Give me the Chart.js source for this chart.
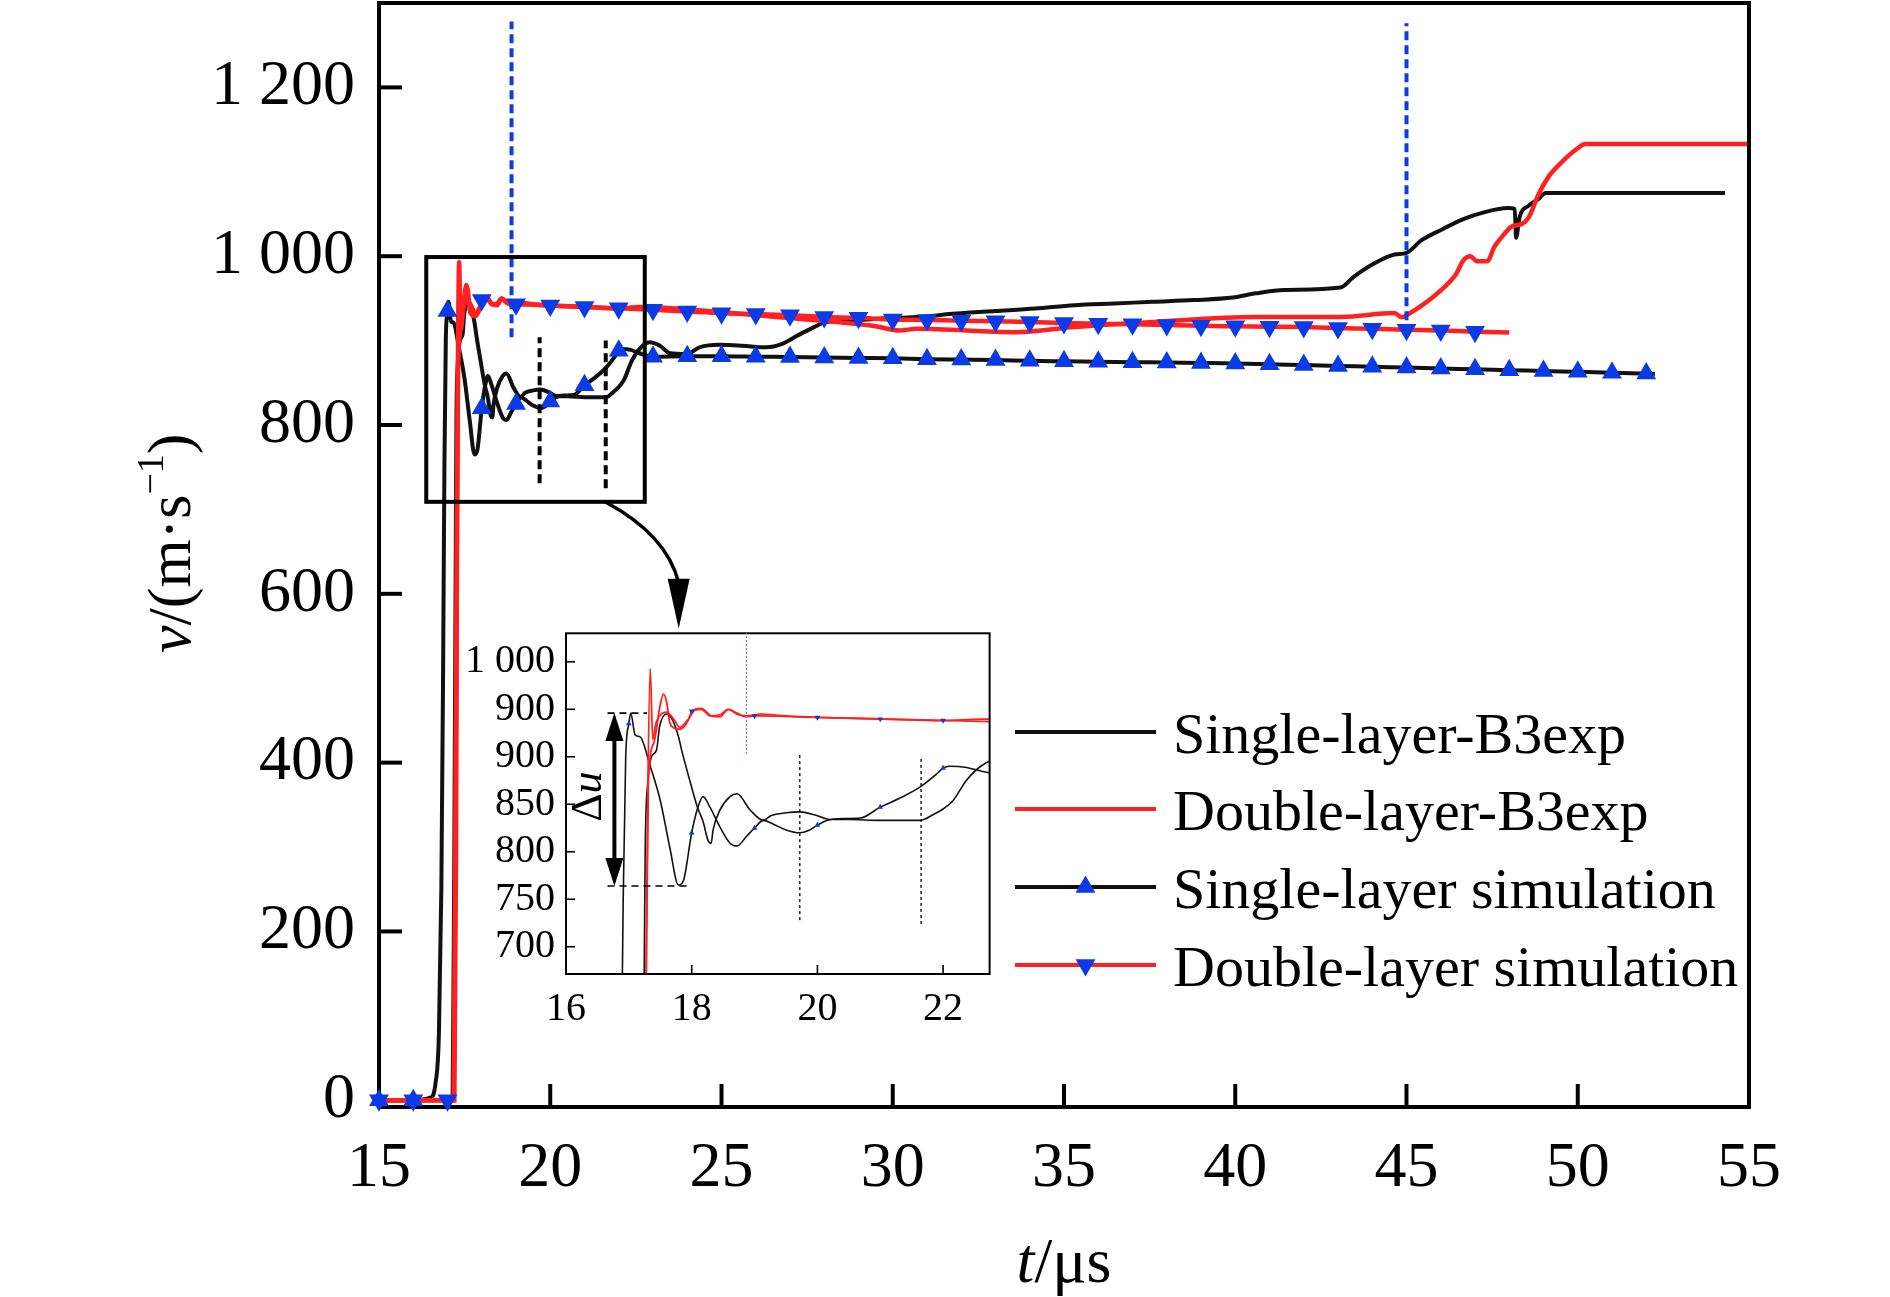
<!DOCTYPE html>
<html><head><meta charset="utf-8">
<script src="https://cdn.jsdelivr.net/npm/chart.js@4.4.1/dist/chart.umd.min.js"></script>
<style>
html,body{margin:0;padding:0;background:#fff;}
#wrap{position:relative;width:1890px;height:1297px;overflow:hidden;}
#main{position:absolute;left:0;top:0;width:1890px;height:1297px;}
#inset{position:absolute;left:420px;top:620px;width:580px;height:430px;}
</style></head><body>
<div id="wrap"><canvas id="main" width="1890" height="1297"></canvas><canvas id="inset" width="580" height="430"></canvas></div>
<script>
// ---------------- DATA ----------------
const seriesLabels = ['Single-layer-B3exp', 'Double-layer-B3exp', 'Single-layer simulation', 'Double-layer simulation'];

const singleExpT = [15, 16.5, 17.1, 17.15, 17.2, 17.26, 17.3, 17.36, 17.44, 17.49, 17.6, 17.7, 17.79, 17.84, 17.97, 18.09, 18.18, 18.26, 18.31, 18.34, 18.45, 18.61, 18.72, 18.93, 19.14, 19.26, 19.5, 19.72, 19.95, 20.2, 20.5, 21.0, 21.63, 21.84, 22.0, 22.16, 22.37, 22.6, 22.9, 23.2, 23.5, 23.97, 24.36, 24.92, 25.6, 26.3, 26.77, 27.22, 27.7, 28.04, 28.6, 29.53, 30.7, 31.85, 33.0, 34.16, 35.3, 36.47, 37.6, 38.78, 39.93, 40.6, 41.43, 43.08, 43.44, 44.04, 44.65, 45.0, 45.44, 46.05, 46.66, 47.26, 47.96, 48.16, 48.2, 48.3, 48.57, 48.86, 49.06, 54.3];
const singleExpV = [0, 0, 0, 5, 300, 800, 872, 900, 907, 932, 945, 938, 921, 907, 875, 847, 832, 812, 809, 823, 844, 858, 861, 844, 833, 838, 841, 842, 839, 834, 834, 833, 833, 839, 845, 854, 875, 890, 898, 894, 885, 884, 892, 895, 894, 892, 896, 906, 916, 922, 923, 926, 928, 932, 935, 938, 942, 944, 946, 948, 951, 956, 960, 963, 975, 991, 1002, 1004, 1019, 1032, 1044, 1052, 1057, 1056, 1022, 1046, 1060, 1068, 1075, 1075];

const doubleExpT = [15, 17.18, 17.24, 17.3, 17.34, 17.38, 17.43, 17.5, 17.6, 17.73, 17.81, 17.95, 18.05, 18.15, 18.3, 18.45, 18.58, 18.72, 18.87, 19.1, 19.5, 20, 21, 22, 22.6, 24.9, 27.2, 29.5, 30.2, 30.7, 33.6, 35.3, 37.6, 40.6, 43.1, 44.65, 44.85, 45.15, 45.45, 46.05, 46.45, 46.66, 46.86, 47.06, 47.36, 47.56, 47.86, 48.06, 48.36, 48.57, 48.86, 49.17, 49.57, 49.97, 50.22, 54.95];
const doubleExpV = [0, 0, 400, 850, 993, 918, 935, 944, 947, 938, 931, 940, 949, 950, 943, 944, 950, 945, 943, 945, 943, 941.5, 940, 938, 939.7, 934, 926, 917, 912, 914, 910, 916, 922, 928, 928, 932.6, 927.8, 933.7, 941.7, 961.4, 979, 995, 1000, 994, 994, 1010.7, 1026.5, 1035, 1038, 1046, 1073.8, 1095.5, 1113, 1127, 1133, 1133];

const singleSimT = [15, 16, 16.5, 16.65, 16.75, 16.82, 16.87, 16.91, 16.95, 17, 17.03, 17.1, 17.18, 17.34, 17.5, 17.65, 17.79, 17.87, 18, 18.1, 18.18, 18.29, 18.45, 18.61, 18.72, 18.87, 19, 19.14, 19.3, 19.5, 19.72, 19.85, 20, 20.15, 20.4, 20.68, 21, 21.3, 21.63, 21.9, 22, 22.1, 22.35, 22.6, 23, 24, 25, 26, 27, 28, 29, 30, 31, 32, 33, 34, 35, 36, 37, 38, 39, 40, 41, 42, 43, 44, 45, 46, 47, 48, 49, 50, 51, 52, 52.25];
const singleSimV = [0, 0, 3, 20, 80, 250, 500, 750, 900, 935, 946, 923, 921, 890, 854, 805, 765, 770, 820, 847, 858, 847, 826, 809, 806, 816, 825, 833, 829, 823, 820, 822, 828, 833, 835, 835.5, 847, 856, 868, 882, 888, 890, 889, 885, 881, 881.5, 881.5, 881, 880.5, 880, 879.5, 879, 878, 877.5, 877, 876, 875.5, 875, 874.5, 874, 873.5, 873, 872, 871, 870, 869, 868, 867, 866, 865, 864, 863, 862, 861, 860.5];

const doubleSimT = [15, 16, 17, 17.2, 17.25, 17.28, 17.31, 17.4, 17.5, 17.55, 17.6, 17.65, 17.73, 17.81, 17.95, 18, 18.15, 18.31, 18.45, 18.58, 18.72, 18.87, 19, 20, 21, 22, 23, 24, 25, 26, 27, 28, 29, 30, 31, 32, 33, 34, 35, 36, 37, 38, 39, 40, 41, 42, 43, 44, 45, 46, 47, 48];
const doubleSimV = [0, 0, 0, 0, 300, 700, 872, 915, 955, 966, 958, 936, 930, 929, 939, 948, 951, 943, 942, 950, 946, 942, 943, 941.5, 939.7, 938.3, 936.5, 934.5, 932.5, 931.5, 930, 928, 927, 925, 924.5, 923.5, 923, 922, 921, 920, 919.5, 918.5, 917.5, 917, 916.5, 916, 915, 914, 913, 912, 910.5, 909.5];

// tick values / labels
const xTicks = [15, 20, 25, 30, 35, 40, 45, 50, 55];
const yTicks = [0, 200, 400, 600, 800, 1000, 1200];
const insetXTicks = [16, 18, 20, 22];
const insetYTicks = [700, 750, 800, 850, 900, 950, 1000];
const insetYTickLabels = ['700', '750', '800', '850', '900', '900', '1 000'];

// annotations (data coordinates)
const mainBlueDash = [[18.87, 904, 1278], [45.0, 924, 1276]];      // t, vFrom, vTo
const mainBlackDash = [[19.69, 731, 904], [21.62, 725, 900]];
const zoomFrame = [16.38, 22.76, 709, 999];                          // t0, t1, v0, v1
const zoomArrow = [[21.6, 709], [23.4, 670], [23.75, 613], [23.75, 559]]; // start, ctrl, end, tip
const insetBlackDash = [[19.72, 728, 903], [21.65, 724, 900]];
const insetBlueDot = [18.87, 903, 1030];
const deltaU = { t: 16.77, hi: 946, lo: 764, from: 16.66, hiEnd: 17.29, loEnd: 17.92, labelT: 16.38, labelV: 858 };

// ---------------- STYLE ----------------
const SERIF = "'Liberation Serif', 'Times New Roman', serif";
const C_BLACK = '#111111', C_RED = '#ff2121', C_BLUE = '#0a3be6';

function pts(T, V) { return T.map((t, i) => ({ x: t, y: V[i] })); }
function markerPts(T, V) { // simulation markers: integer time steps (last sample has no marker)
  const out = [];
  for (let i = 0; i < T.length - 1; i++) if (Number.isInteger(T[i])) out.push({ x: T[i], y: V[i] });
  return out;
}
function fmtV(v) {
  if (v >= 1000) return Math.floor(v / 1000) + ' ' + String(v % 1000).padStart(3, '0');
  return String(v);
}
function tri(ctx, x, y, r, down) {
  const a0 = down ? Math.PI : 0;
  ctx.beginPath();
  for (let k = 0; k < 3; k++) {
    const a = a0 + k * 2 * Math.PI / 3;
    const px = x + Math.sin(a) * r, py = y - Math.cos(a) * r;
    if (k === 0) ctx.moveTo(px, py); else ctx.lineTo(px, py);
  }
  ctx.closePath(); ctx.fill();
}
function rich(ctx, parts) {
  let w = 0;
  for (const p of parts) { ctx.font = p.font; w += ctx.measureText(p.text).width; }
  return w;
}
function drawRich(ctx, parts, x, y) {
  let cx = x;
  for (const p of parts) {
    ctx.font = p.font;
    ctx.fillText(p.text, cx, y + (p.dy || 0));
    cx += ctx.measureText(p.text).width;
  }
}
function dashedLine(ctx, x0, y0, x1, y1, dash, w, color) {
  ctx.save(); ctx.setLineDash(dash); ctx.lineWidth = w; ctx.strokeStyle = color;
  ctx.beginPath(); ctx.moveTo(x0, y0); ctx.lineTo(x1, y1); ctx.stroke(); ctx.restore();
}
function noPad(s) { s.paddingTop = 0; s.paddingBottom = 0; s.paddingLeft = 0; s.paddingRight = 0; }

Chart.defaults.font.family = SERIF;
Chart.defaults.color = '#000';

function lineDs(label, T, V, color, width, order, clip) {
  const d = { label, data: pts(T, V), borderColor: color, borderWidth: width, pointRadius: 0,
    fill: false, cubicInterpolationMode: 'monotone', order };
  if (clip !== undefined) d.clip = clip;
  return d;
}
function markDs(T, V, down, r, order, clip) {
  return { label: 'm', data: markerPts(T, V), showLine: false, pointStyle: 'triangle',
    pointRotation: down ? 180 : 0, pointRadius: r, pointBackgroundColor: C_BLUE,
    pointBorderWidth: 0, pointBorderColor: C_BLUE, order, clip };
}

// ---------------- MAIN CHART ----------------
const mainDecor = {
  id: 'mainDecor',
  beforeDatasetsDraw(chart) {
    const { ctx, chartArea: a, scales: { x, y } } = chart;
    ctx.save();
    ctx.strokeStyle = '#000'; ctx.lineWidth = 4;
    ctx.strokeRect(a.left, a.top, a.right - a.left, a.bottom - a.top);
    xTicks.forEach(v => { const px = x.getPixelForValue(v); ctx.beginPath(); ctx.moveTo(px, a.bottom); ctx.lineTo(px, a.bottom - 23); ctx.stroke(); });
    yTicks.forEach(v => { const py = y.getPixelForValue(v); ctx.beginPath(); ctx.moveTo(a.left, py); ctx.lineTo(a.left + 23, py); ctx.stroke(); });
    ctx.restore();
  },
  afterDraw(chart) {
    const { ctx, scales: { x, y } } = chart;
    ctx.save();
    mainBlueDash.forEach(([t, v0, v1]) => dashedLine(ctx, x.getPixelForValue(t), y.getPixelForValue(v0), x.getPixelForValue(t), y.getPixelForValue(v1), [9, 5], 4, C_BLUE));
    mainBlackDash.forEach(([t, v0, v1]) => dashedLine(ctx, x.getPixelForValue(t), y.getPixelForValue(v0), x.getPixelForValue(t), y.getPixelForValue(v1), [9, 5], 4, '#000'));
    ctx.strokeStyle = '#000'; ctx.lineWidth = 4; ctx.setLineDash([]);
    const fx0 = x.getPixelForValue(zoomFrame[0]), fx1 = x.getPixelForValue(zoomFrame[1]);
    const fy0 = y.getPixelForValue(zoomFrame[2]), fy1 = y.getPixelForValue(zoomFrame[3]);
    ctx.strokeRect(fx0, fy1, fx1 - fx0, fy0 - fy1);
    const P = zoomArrow.map(([t, v]) => [x.getPixelForValue(t), y.getPixelForValue(v)]);
    ctx.lineWidth = 3.5;
    ctx.beginPath(); ctx.moveTo(P[0][0], P[0][1]); ctx.quadraticCurveTo(P[1][0], P[1][1], P[2][0], P[2][1]); ctx.stroke();
    ctx.fillStyle = '#000';
    ctx.beginPath(); ctx.moveTo(P[3][0], P[3][1]); ctx.lineTo(P[2][0] - 11, P[2][1] - 4); ctx.lineTo(P[2][0] + 11, P[2][1] - 4); ctx.closePath(); ctx.fill();

    // legend
    const rows = [732, 809, 887, 965];
    const lx0 = 1015, lx1 = 1156, tx = 1173;
    const lcol = [C_BLACK, C_RED, C_BLACK, C_RED];
    rows.forEach((ry, i) => {
      ctx.strokeStyle = lcol[i]; ctx.lineWidth = 4;
      ctx.beginPath(); ctx.moveTo(lx0, ry); ctx.lineTo(lx1, ry); ctx.stroke();
      if (i >= 2) { ctx.fillStyle = C_BLUE; tri(ctx, (lx0 + lx1) / 2, ry, 11.5, i === 3); }
      ctx.fillStyle = '#000'; ctx.font = '58px ' + SERIF; ctx.textAlign = 'left'; ctx.textBaseline = 'alphabetic';
      ctx.fillText(seriesLabels[i], tx, ry + 21);
    });

    // axis titles
    ctx.fillStyle = '#000'; ctx.textAlign = 'left'; ctx.textBaseline = 'alphabetic';
    const xt = [{ text: 't', font: 'italic 64px ' + SERIF }, { text: '/μs', font: '64px ' + SERIF }];
    const xw = rich(ctx, xt);
    drawRich(ctx, xt, 1064 - xw / 2, 1282);
    ctx.save();
    ctx.translate(190, 653); ctx.rotate(-Math.PI / 2);
    drawRich(ctx, [
      { text: 'v', font: 'italic 62px ' + SERIF },
      { text: '/(m·s', font: '62px ' + SERIF },
      { text: '−1', font: '38px ' + SERIF, dy: -27 },
      { text: ')', font: '62px ' + SERIF }
    ], 0, 0);
    ctx.restore();
    ctx.restore();
  }
};

new Chart(document.getElementById('main'), {
  type: 'line',
  data: {
    datasets: [
      markDs(singleSimT, singleSimV, false, 11.5, 0, false),
      markDs(doubleSimT, doubleSimV, true, 11.5, 0, false),
      lineDs(seriesLabels[1], doubleExpT, doubleExpV, C_RED, 4.5, 1),
      lineDs(seriesLabels[3], doubleSimT, doubleSimV, C_RED, 4.5, 2),
      lineDs(seriesLabels[0], singleExpT, singleExpV, C_BLACK, 4, 3),
      lineDs(seriesLabels[2], singleSimT, singleSimV, C_BLACK, 4, 4)
    ]
  },
  options: {
    responsive: false, animation: false, devicePixelRatio: 1, events: [],
    layout: { autoPadding: false, padding: { left: 0, top: 3, right: 141, bottom: 0 } },
    plugins: { legend: { display: false }, tooltip: { enabled: false } },
    scales: {
      x: {
        type: 'linear', min: 15, max: 55,
        afterBuildTicks: s => { s.ticks = xTicks.map(v => ({ value: v })); },
        afterFit: s => { s.height = 190; noPad(s); },
        grid: { display: false, drawTicks: false }, border: { display: false },
        ticks: { color: '#000', font: { size: 64, family: SERIF }, padding: 24, maxRotation: 0, autoSkip: false, callback: v => String(v) }
      },
      y: {
        type: 'linear', min: -8, max: 1300,
        afterBuildTicks: s => { s.ticks = yTicks.map(v => ({ value: v })); },
        afterFit: s => { s.width = 379; noPad(s); },
        grid: { display: false, drawTicks: false }, border: { display: false },
        ticks: { color: '#000', font: { size: 64, family: SERIF }, padding: 24, autoSkip: false, callback: v => fmtV(v) }
      }
    }
  },
  plugins: [mainDecor]
});

// ---------------- INSET CHART ----------------
const insetDecor = {
  id: 'insetDecor',
  afterDraw(chart) {
    const { ctx, chartArea: a, scales: { x, y } } = chart;
    ctx.save();
    ctx.strokeStyle = '#000'; ctx.lineWidth = 2; ctx.setLineDash([]);
    ctx.strokeRect(a.left, a.top, a.right - a.left, a.bottom - a.top);
    ctx.lineWidth = 1.6;
    insetXTicks.forEach(v => { const px = x.getPixelForValue(v); ctx.beginPath(); ctx.moveTo(px, a.bottom); ctx.lineTo(px, a.bottom - 9); ctx.stroke(); });
    insetYTicks.forEach(v => { const py = y.getPixelForValue(v); ctx.beginPath(); ctx.moveTo(a.left, py); ctx.lineTo(a.left + 9, py); ctx.stroke(); });
    insetBlackDash.forEach(([t, v0, v1]) => dashedLine(ctx, x.getPixelForValue(t), y.getPixelForValue(v0), x.getPixelForValue(t), y.getPixelForValue(v1), [3, 3], 1.3, '#000'));
    dashedLine(ctx, x.getPixelForValue(insetBlueDot[0]), y.getPixelForValue(insetBlueDot[1]), x.getPixelForValue(insetBlueDot[0]), y.getPixelForValue(insetBlueDot[2]), [2, 2], 1.3, '#6a86ff');
    const yh = y.getPixelForValue(deltaU.hi), yl = y.getPixelForValue(deltaU.lo);
    dashedLine(ctx, x.getPixelForValue(deltaU.from), yh, x.getPixelForValue(deltaU.hiEnd), yh, [7, 5], 1.6, '#000');
    dashedLine(ctx, x.getPixelForValue(deltaU.from), yl, x.getPixelForValue(deltaU.loEnd), yl, [7, 5], 1.6, '#000');
    const ax = x.getPixelForValue(deltaU.t);
    ctx.strokeStyle = '#000'; ctx.fillStyle = '#000'; ctx.lineWidth = 4;
    ctx.beginPath(); ctx.moveTo(ax, yh + 24); ctx.lineTo(ax, yl - 24); ctx.stroke();
    ctx.beginPath(); ctx.moveTo(ax, yh); ctx.lineTo(ax - 9, yh + 28); ctx.lineTo(ax + 9, yh + 28); ctx.closePath(); ctx.fill();
    ctx.beginPath(); ctx.moveTo(ax, yl); ctx.lineTo(ax - 9, yl - 28); ctx.lineTo(ax + 9, yl - 28); ctx.closePath(); ctx.fill();
    ctx.save();
    ctx.translate(x.getPixelForValue(deltaU.labelT), y.getPixelForValue(deltaU.labelV));
    ctx.rotate(-Math.PI / 2);
    ctx.textBaseline = 'middle'; ctx.textAlign = 'left';
    const du = [{ text: 'Δ', font: '44px ' + SERIF }, { text: 'u', font: 'italic 44px ' + SERIF }];
    const w = rich(ctx, du);
    drawRich(ctx, du, -w / 2, 0);
    ctx.restore();
    ctx.restore();
  }
};

new Chart(document.getElementById('inset'), {
  type: 'line',
  data: {
    datasets: [
      markDs(singleSimT, singleSimV, false, 3.3, 0, 0),
      markDs(doubleSimT, doubleSimV, true, 3.3, 0, 0),
      lineDs(seriesLabels[1], doubleExpT, doubleExpV, C_RED, 1.8, 1, 0),
      lineDs(seriesLabels[3], doubleSimT, doubleSimV, C_RED, 1.8, 2, 0),
      lineDs(seriesLabels[0], singleExpT, singleExpV, C_BLACK, 1.6, 3, 0),
      lineDs(seriesLabels[2], singleSimT, singleSimV, C_BLACK, 1.6, 4, 0)
    ]
  },
  options: {
    responsive: false, animation: false, devicePixelRatio: 1, events: [],
    layout: { autoPadding: false, padding: { left: 0, top: 13.3, right: 10.4, bottom: 0 } },
    plugins: { legend: { display: false }, tooltip: { enabled: false } },
    scales: {
      x: {
        type: 'linear', min: 16, max: 22.74,
        afterBuildTicks: s => { s.ticks = insetXTicks.map(v => ({ value: v })); },
        afterFit: s => { s.height = 76; noPad(s); },
        grid: { display: false, drawTicks: false }, border: { display: false },
        ticks: { color: '#000', font: { size: 40, family: SERIF }, padding: 11, maxRotation: 0, autoSkip: false, callback: v => String(v) }
      },
      y: {
        type: 'linear', min: 671.3, max: 1030,
        afterBuildTicks: s => { s.ticks = insetYTicks.map(v => ({ value: v })); },
        afterFit: s => { s.width = 146; noPad(s); },
        grid: { display: false, drawTicks: false }, border: { display: false },
        ticks: { color: '#000', font: { size: 40, family: SERIF }, padding: 11, autoSkip: false,
          callback: v => insetYTickLabels[insetYTicks.indexOf(v)] }
      }
    }
  },
  plugins: [insetDecor]
});
</script>
</body></html>
